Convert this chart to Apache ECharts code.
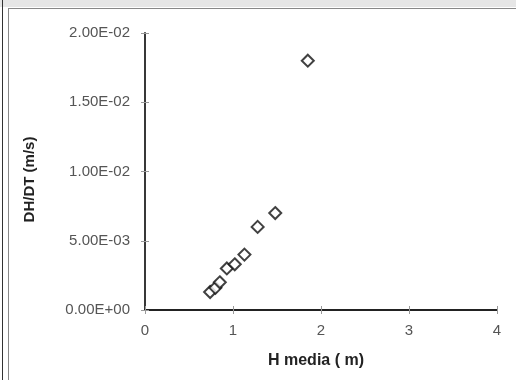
<!DOCTYPE html>
<html>
<head>
<meta charset="utf-8">
<script src="https://cdn.jsdelivr.net/npm/echarts@6/dist/echarts.min.js"></script>
<style>
  html, body { margin: 0; padding: 0; background: #fff; }
  #chart { width: 516px; height: 380px; }
</style>
</head>
<body>
<div id="chart"></div>
<script>
// H media (m) vs DH/DT (m/s)
var hMedia = [0.74, 0.80, 0.85, 0.93, 1.02, 1.13, 1.28, 1.48, 1.85];
var dhdt = [0.0013, 0.0016, 0.0020, 0.0030, 0.0033, 0.0040, 0.0060, 0.0070, 0.0180];
var xTicks = [0, 1, 2, 3, 4];
var yTicks = [0, 0.005, 0.01, 0.015, 0.02];

var points = hMedia.map(function(h, i) { return [h, dhdt[i]]; });

function expLabel(v) {
  // 0.005 -> 5.00E-03
  var s = Number(v).toExponential(2).split('e');
  var e = parseInt(s[1], 10);
  var sign = e < 0 ? '-' : '+';
  var abs = Math.abs(e);
  return s[0] + 'E' + sign + (abs < 10 ? '0' + abs : abs);
}

var font = 'Liberation Sans, Arial, sans-serif';
var chart = echarts.init(document.getElementById('chart'));
var option = {
  animation: false,
  backgroundColor: '#fff',
  graphic: [
    // outer frame bits
    { type: 'rect', shape: { x: 0, y: 0, width: 516, height: 7 }, style: { fill: '#e6e6e6' }, silent: true },
    { type: 'line', shape: { x1: 2.5, y1: 0, x2: 2.5, y2: 380 }, style: { stroke: '#333', lineWidth: 1 }, silent: true },
    { type: 'line', shape: { x1: 8.5, y1: 8, x2: 8.5, y2: 380 }, style: { stroke: '#888', lineWidth: 1 }, silent: true },
    { type: 'line', shape: { x1: 8, y1: 8.5, x2: 516, y2: 8.5 }, style: { stroke: '#888', lineWidth: 1 }, silent: true }
  ],
  grid: {
    left: 145,
    right: 19,
    top: 33,
    bottom: 70
  },
  xAxis: [{
    type: 'value',
    min: xTicks[0],
    max: xTicks[xTicks.length - 1],
    interval: 1,
    name: 'H media ( m)',
    nameLocation: 'middle',
    nameGap: 43,
    nameTextStyle: { fontFamily: font, fontSize: 16, fontWeight: 'bold', color: '#222', padding: [0, 10, 0, 0] },
    axisLine: { lineStyle: { color: '#222', width: 1.8 } },
    axisTick: { length: 4, lineStyle: { color: '#999' } },
    axisLabel: { fontFamily: font, fontSize: 15, color: '#555', margin: 13 },
    splitLine: { show: false }
  }, {
    // inner half of the crossing ticks
    type: 'value',
    position: 'bottom',
    min: xTicks[0],
    max: xTicks[xTicks.length - 1],
    interval: 1,
    axisLine: { show: false },
    axisTick: { inside: true, length: 4, lineStyle: { color: '#999' } },
    axisLabel: { show: false },
    splitLine: { show: false }
  }],
  yAxis: [{
    type: 'value',
    min: yTicks[0],
    max: yTicks[yTicks.length - 1],
    interval: 0.005,
    name: 'DH/DT (m/s)',
    nameLocation: 'middle',
    nameGap: 108,
    nameRotate: 90,
    nameTextStyle: { fontFamily: font, fontSize: 15, fontWeight: 'bold', color: '#222', padding: [0, 16, 0, 0] },
    axisLine: { show: true, lineStyle: { color: '#222', width: 1.8 } },
    axisTick: { show: true, length: 4, lineStyle: { color: '#999' } },
    axisLabel: { fontFamily: font, fontSize: 15, color: '#555', margin: 15, formatter: expLabel },
    splitLine: { show: false }
  }, {
    type: 'value',
    position: 'left',
    min: yTicks[0],
    max: yTicks[yTicks.length - 1],
    interval: 0.005,
    axisLine: { show: false },
    axisTick: { show: true, inside: true, length: 4, lineStyle: { color: '#999' } },
    axisLabel: { show: false },
    splitLine: { show: false }
  }],
  series: [{
    type: 'scatter',
    symbol: 'diamond',
    symbolSize: 12,
    itemStyle: { color: '#fff', borderColor: '#111', borderWidth: 2 },
    data: points
  }]
};
chart.setOption(option);
</script>
</body>
</html>
